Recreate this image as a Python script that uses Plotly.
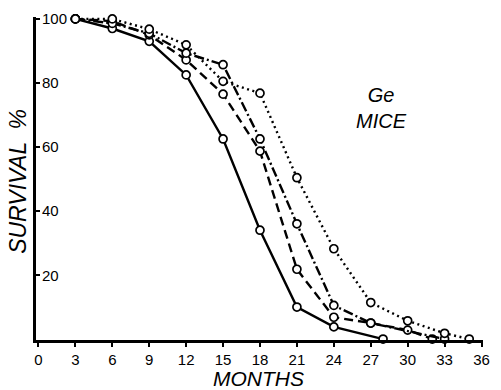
import plotly.graph_objects as go

# Survival of Ge mice, four groups, percent alive by age in months
solid_months = [3, 6, 9, 12, 15, 18, 21, 24, 28]
solid_surv = [100, 97, 93, 82.5, 62.5, 34, 10, 3.8, 0]

dashed_months = [3, 6, 9, 12, 15, 18, 21, 24, 27, 30, 32]
dashed_surv = [100, 99.3, 95, 87.2, 76.5, 58.7, 21.8, 6.8, 5, 2.8, 0]

dashdot_months = [3, 6, 9, 12, 15, 18, 21, 24, 27, 33]
dashdot_surv = [100, 98.6, 95.5, 89.3, 85.7, 62.5, 36, 10.5, 5, 0]

dotted_months = [3, 6, 9, 12, 15, 18, 21, 24, 27, 30, 33, 35]
dotted_surv = [100, 100, 96.8, 91.9, 80.5, 76.8, 50.4, 28.2, 11.4, 5.7, 1.8, 0]

x_ticks = list(range(0, 37, 3))
y_ticks = [20, 40, 60, 80, 100]

FONT = "Liberation Sans"

series = [
    (solid_months, solid_surv, "solid"),
    (dashed_months, dashed_surv, "9px,5px"),
    (dashdot_months, dashdot_surv, "10px,3px,2px,3px"),
    (dotted_months, dotted_surv, "2px,3.5px"),
]

fig = go.Figure()
for months, surv, dash in series:
    fig.add_trace(go.Scatter(
        x=months, y=surv, mode="lines+markers",
        line=dict(color="black", width=2.4, dash=dash),
        marker=dict(symbol="circle", size=8, color="white",
                    line=dict(color="black", width=1.7)),
        cliponaxis=False, showlegend=False,
    ))

# y tick labels sit just right of the axis line, inside the frame
annotations = [
    dict(text=str(v), xref="paper", yref="y", x=0.009, y=v,
         xanchor="left", yanchor="middle", showarrow=False,
         font=dict(size=15, family=FONT))
    for v in y_ticks
]
annotations += [
    dict(text="<i>MONTHS</i>", xref="paper", yref="paper",
         x=0.498, y=-0.118, xanchor="center", yanchor="middle",
         showarrow=False, font=dict(size=21, family=FONT)),
    dict(text="<i>SURVIVAL  %</i>", xref="paper", yref="paper",
         x=-0.04, y=0.49, xanchor="center", yanchor="middle",
         textangle=-90, showarrow=False, font=dict(size=23, family=FONT)),
    dict(text="<i>Ge</i><br><i>MICE</i>", xref="x", yref="y",
         x=27.9, y=72.3, xanchor="center", yanchor="middle",
         showarrow=False, font=dict(size=20, family=FONT)),
]

fig.update_layout(
    width=501, height=390,
    margin=dict(l=36, r=11, t=17, b=50),
    paper_bgcolor="white", plot_bgcolor="white",
    font=dict(family=FONT, color="black", size=15),
    xaxis=dict(
        range=[-0.2, 36.12], tickvals=x_ticks,
        ticktext=[str(v) for v in x_ticks],
        showline=True, linecolor="black", linewidth=2.6,
        ticks="outside", ticklen=4, tickwidth=1.5, tickcolor="black",
        showgrid=False, zeroline=False,
        tickfont=dict(size=15, family=FONT),
    ),
    yaxis=dict(
        range=[-0.3, 100.6], tickvals=y_ticks,
        showline=True, linecolor="black", linewidth=2.6,
        ticks="inside", ticklen=4, tickwidth=1.5, tickcolor="black",
        showticklabels=False,
        showgrid=False, zeroline=False,
    ),
    annotations=annotations,
)

fig.write_html("out.html")
